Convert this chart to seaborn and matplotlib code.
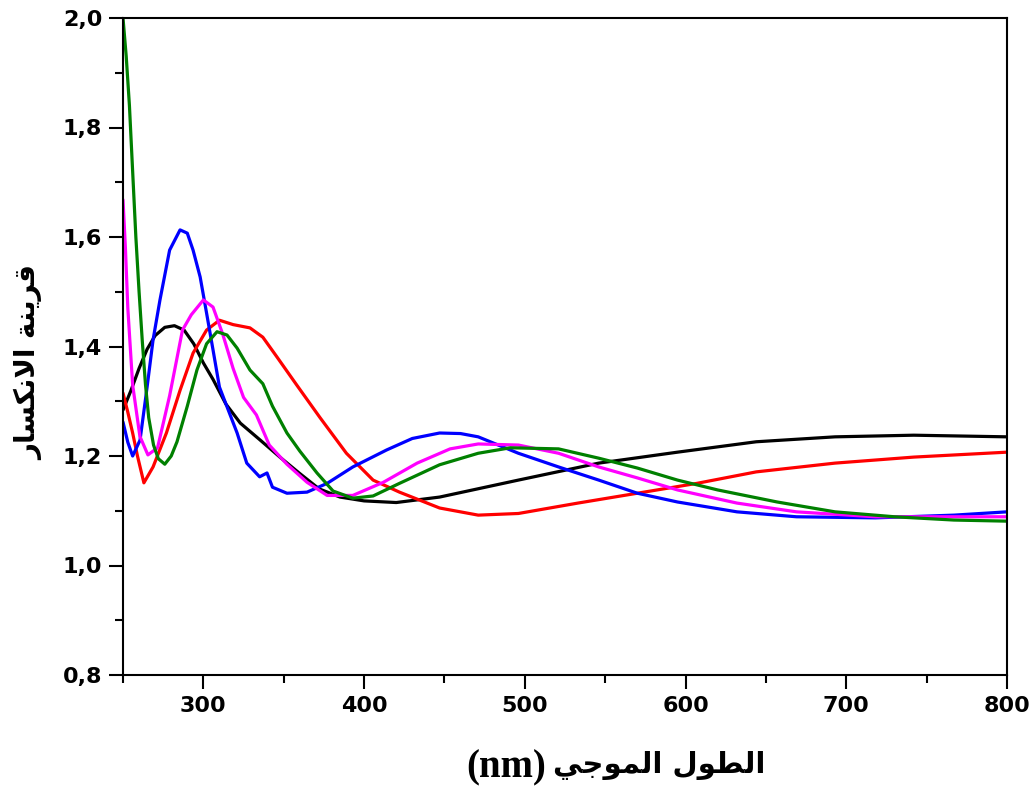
import numpy as np
import pandas as pd
import matplotlib
matplotlib.use("Agg")
import matplotlib.pyplot as plt
from matplotlib.ticker import FixedLocator
import seaborn as sns

# ---------------- data ----------------
black_x = [250, 255, 260, 265, 270, 276, 282, 288, 294, 300, 306, 314, 323, 335, 348, 360, 372, 385,
           400, 420, 447, 496, 546, 595, 644, 693, 742, 800]
black_y = [1.284, 1.32, 1.36, 1.395, 1.42, 1.435, 1.438, 1.43, 1.405, 1.37, 1.34, 1.295, 1.26, 1.23,
           1.197, 1.168, 1.14, 1.125, 1.118, 1.115, 1.125, 1.156, 1.187, 1.207, 1.226, 1.235, 1.238, 1.235]

red_x = [250, 253, 256, 259, 263, 268.7, 277, 285.5, 293.6, 302, 310, 318.5, 329, 337, 346, 358, 372.6,
         389, 405.6, 422, 447, 471, 496, 533, 570, 607, 644, 693, 742, 800]
red_y = [1.315, 1.28, 1.242, 1.2, 1.151, 1.18, 1.242, 1.32, 1.388, 1.43, 1.448, 1.44, 1.434, 1.417, 1.38,
         1.33, 1.27, 1.205, 1.156, 1.134, 1.105, 1.092, 1.095, 1.114, 1.132, 1.15, 1.171, 1.187, 1.198, 1.207]

blue_x = [250, 253, 256, 260.6, 265, 268.7, 273, 279, 285.5, 290, 293.6, 298, 302, 306, 310, 314.7, 321,
          327, 335, 339.6, 343, 352, 364.5, 377, 393, 414, 430, 447, 460, 471, 496, 521, 546, 570, 595,
          632, 669, 718, 767, 800]
blue_y = [1.262, 1.225, 1.2, 1.229, 1.326, 1.412, 1.485, 1.576, 1.613, 1.607, 1.576, 1.527, 1.461, 1.394,
          1.326, 1.29, 1.242, 1.187, 1.162, 1.169, 1.143, 1.132, 1.134, 1.15, 1.18, 1.211, 1.232, 1.242,
          1.241, 1.235, 1.205, 1.18, 1.156, 1.132, 1.116, 1.098, 1.089, 1.087, 1.092, 1.098]

magenta_x = [250, 251.5, 253, 256, 260.5, 265.5, 271.5, 279, 287, 292.5, 300, 306, 312, 318.5, 325, 333,
             341, 352, 364.5, 377, 393, 412, 433, 453.5, 471, 496, 521, 546, 570, 595, 632, 669, 718, 800]
magenta_y = [1.668, 1.58, 1.47, 1.33, 1.236, 1.202, 1.215, 1.31, 1.43, 1.458, 1.485, 1.472, 1.423, 1.36,
             1.307, 1.275, 1.22, 1.185, 1.152, 1.128, 1.128, 1.152, 1.187, 1.213, 1.222, 1.22, 1.205, 1.18,
             1.16, 1.138, 1.114, 1.098, 1.089, 1.089]

green_x = [250, 252, 254, 256, 258, 260, 262, 264, 266, 269, 272, 276, 280, 283.6, 290, 296, 302, 308.5,
           314.7, 321, 329, 337, 343, 352, 360, 370.7, 380.7, 393, 405.6, 422, 447, 471, 491, 521, 546, 570,
           595, 620, 657, 693, 730, 767, 800]
green_y = [2.0, 1.93, 1.84, 1.72, 1.6, 1.5, 1.41, 1.33, 1.27, 1.22, 1.195, 1.185, 1.2, 1.226, 1.291, 1.357,
           1.405, 1.427, 1.421, 1.397, 1.357, 1.332, 1.291, 1.242, 1.209, 1.169, 1.136, 1.123, 1.127, 1.15,
           1.184, 1.205, 1.215, 1.213, 1.196, 1.178, 1.156, 1.138, 1.116, 1.098, 1.089, 1.083, 1.081]

series_names = ["black", "red", "blue", "magenta", "green"]
series_colors = ["#000000", "#FF0000", "#0000FF", "#FF00FF", "#008000"]

x_ticks = [300, 400, 500, 600, 700, 800]
x_tick_labels = ["300", "400", "500", "600", "700", "800"]
y_ticks = [0.8, 1.0, 1.2, 1.4, 1.6, 1.8, 2.0]
y_tick_labels = ["0,8", "1,0", "1,2", "1,4", "1,6", "1,8", "2,0"]

# Arabic labels, pre-shaped (presentation forms) in visual order
x_label_unit = "(nm)"
x_label_ar = "\uFEF2\uFE9F\uFEEE\uFEE4\uFEDF\uFE8D" + " " + "\uFEDD\uFEEE\uFEC4\uFEDF\uFE8D"
y_label = "\uFEAD\uFE8E\uFEB4\uFEDC\uFEE7\uFEFB\uFE8D" + " " + "\uFE94\uFEE8\uFEF3\uFEAE\uFED7"

# ---------------- build long table ----------------
xs = [black_x, red_x, blue_x, magenta_x, green_x]
ys = [black_y, red_y, blue_y, magenta_y, green_y]
frames = []
for name, x, y in zip(series_names, xs, ys):
    frames.append(pd.DataFrame({"wl": x, "n": y, "sample": name}))
df = pd.concat(frames, ignore_index=True)

# ---------------- plot ----------------
sns.set_theme(style="ticks")
plt.rcParams["font.family"] = ["DejaVu Sans"]

W, H = 1033, 793
fig = plt.figure(figsize=(W / 100, H / 100), dpi=100)
ax = fig.add_axes([123 / W, 1 - 675 / H, (1007 - 123) / W, (675 - 18) / H])

sns.lineplot(data=df, x="wl", y="n", hue="sample", hue_order=series_names,
             palette=dict(zip(series_names, series_colors)), estimator=None, sort=False,
             legend=False, linewidth=2.3, ax=ax)
for line in ax.get_lines():
    line.set_solid_joinstyle("round")

ax.set_xlim(250, 800)
ax.set_ylim(0.8, 2.0)

ax.xaxis.set_major_locator(FixedLocator(x_ticks))
ax.set_xticklabels(x_tick_labels)
ax.xaxis.set_minor_locator(FixedLocator([250, 350, 450, 550, 650, 750]))
ax.yaxis.set_major_locator(FixedLocator(y_ticks))
ax.set_yticklabels(y_tick_labels)
ax.yaxis.set_minor_locator(FixedLocator([0.9, 1.1, 1.3, 1.5, 1.7, 1.9]))

ax.tick_params(axis="both", which="major", direction="out", length=10, width=1.5,
               labelsize=16, pad=5, top=False, right=False, color="black")
ax.tick_params(axis="both", which="minor", direction="out", length=6, width=1.5,
               top=False, right=False, color="black")
for lab in ax.get_xticklabels() + ax.get_yticklabels():
    lab.set_fontweight("bold")
    lab.set_color("black")

for sp in ax.spines.values():
    sp.set_visible(True)
    sp.set_linewidth(1.5)
    sp.set_color("black")

ax.set_xlabel("")
ax.set_ylabel("")

# x-axis title: "(nm)" in serif bold + Arabic words
fig.text(546 / W, 1 - 768 / H, x_label_unit, family=["Liberation Serif"], fontweight="bold",
         fontsize=28, color="black", ha="right", va="center")
fig.text(553 / W, 1 - 766 / H, x_label_ar, family=["DejaVu Sans"], fontweight="bold",
         fontsize=21, color="black", ha="left", va="center")

# y-axis title
fig.text(29 / W, 1 - 362 / H, y_label, family=["DejaVu Sans"], fontweight="bold",
         fontsize=20, color="black", ha="center", va="center", rotation=90)

fig.savefig("out.png", dpi=100, facecolor="white")
